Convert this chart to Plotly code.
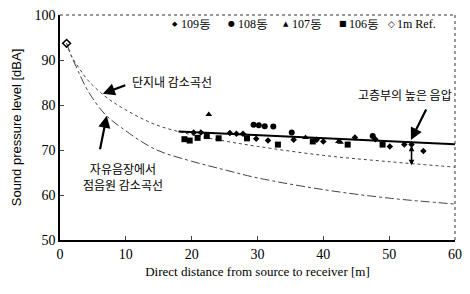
import plotly.graph_objects as go

# ---------------- data ----------------
curve_x = [1, 1.7, 2.8, 4.3, 6.8, 9.3, 14.4, 20, 25, 30, 40, 50, 60]
complex_curve = [93.7, 91.0, 88.4, 85.4, 82.0, 79.5, 75.7, 73.4, 72.0, 70.8, 68.8, 67.4, 66.2]
free_field_curve = [93.7, 91.0, 87.4, 83.0, 78.0, 75.0, 70.2, 67.5, 65.6, 63.8, 61.2, 59.3, 58.0]

b109_x = [20.3, 21.4, 25.8, 26.8, 27.8, 29.8, 31.6, 35.5, 39.0, 40.0, 44.8, 47.9, 50.1, 52.3, 53.4, 55.2]
b109_y = [73.9, 73.9, 73.8, 73.6, 73.6, 72.5, 72.1, 72.3, 72.3, 71.9, 72.8, 72.4, 70.8, 71.2, 71.2, 69.8]
b108_x = [29.4, 30.2, 31.1, 32.4, 35.2, 47.5]
b108_y = [75.6, 75.5, 75.3, 75.2, 73.9, 73.1]
b107_x = [22.6, 37.3, 42.3, 42.6]
b107_y = [77.9, 72.8, 71.9, 71.7]
b106_x = [18.9, 19.7, 20.9, 22.3, 24.1, 28.4, 33.1, 38.4, 43.7, 49.0]
b106_y = [72.4, 72.1, 72.7, 73.1, 72.6, 72.6, 71.2, 71.9, 71.2, 71.2]
ref_x = [1.0]
ref_y = [93.7]

reg_x = [18, 60]
reg_y = [74.1, 71.3]

arrow_x = 53.4
arrow_top = 71.3
arrow_bottom = 66.6

legend_names = ["109동", "108동", "107동", "106동", "1m Ref."]
legend_glyphs = ["◆", "●", "▲", "■", "◇"]

x_ticks = [0, 10, 20, 30, 40, 50, 60]
y_ticks = [50, 60, 70, 80, 90, 100]

serif = "Liberation Serif"
kr = "Noto Sans CJK KR"

fig = go.Figure()

fig.add_trace(go.Scatter(x=curve_x, y=complex_curve, mode="lines", line_shape="spline",
                         line=dict(color="#444", width=1, dash="dot"), showlegend=False))
fig.add_trace(go.Scatter(x=curve_x, y=free_field_curve, mode="lines", line_shape="spline",
                         line=dict(color="#444", width=1, dash="dashdot"), showlegend=False))
fig.add_trace(go.Scatter(x=reg_x, y=reg_y, mode="lines",
                         line=dict(color="black", width=2), showlegend=False))

fig.add_trace(go.Scatter(x=b109_x, y=b109_y, mode="markers", name=legend_names[0],
                         marker=dict(symbol="diamond", size=5, color="black")))
fig.add_trace(go.Scatter(x=b108_x, y=b108_y, mode="markers", name=legend_names[1],
                         marker=dict(symbol="circle", size=6, color="black")))
fig.add_trace(go.Scatter(x=b107_x, y=b107_y, mode="markers", name=legend_names[2],
                         marker=dict(symbol="triangle-up", size=6, color="black")))
fig.add_trace(go.Scatter(x=b106_x, y=b106_y, mode="markers", name=legend_names[3],
                         marker=dict(symbol="square", size=6, color="black")))
fig.add_trace(go.Scatter(x=ref_x, y=ref_y, mode="markers", name=legend_names[4],
                         marker=dict(symbol="diamond-open", size=6, color="black",
                                     line=dict(width=1.5, color="black"))))

# dotted top/right frame
fig.add_shape(type="line", xref="paper", yref="paper", x0=0, x1=1, y0=1, y1=1,
              line=dict(color="#333", width=1, dash="dot"))
fig.add_shape(type="line", xref="paper", yref="paper", x0=1, x1=1, y0=0, y1=1,
              line=dict(color="#333", width=1, dash="dot"))

# compact legend row (glyph + label)
glyph_px = [175, 232, 287, 344, 392]
glyph_sizes = [7, 8, 7, 8, 9]
for name, glyph, gx, gs in zip(legend_names, legend_glyphs, glyph_px, glyph_sizes):
    fig.add_annotation(x=(gx - 60) / 396, y=0.961, xref="paper", yref="paper",
                       text=glyph, showarrow=False, xanchor="center", yanchor="middle",
                       font=dict(family="DejaVu Sans", size=gs, color="black"))
    fig.add_annotation(x=(gx + 4 - 60) / 396, y=0.961, xref="paper", yref="paper",
                       text=name, showarrow=False, xanchor="left", yanchor="middle",
                       font=dict(family=serif, size=12, color="black"))

# annotations
fig.add_annotation(x=6.5, y=82.5, ax=24, ay=-9, axref="pixel", ayref="pixel",
                   text="", showarrow=True, arrowhead=2, arrowsize=1.1, arrowwidth=2.2,
                   arrowcolor="black")
fig.add_annotation(x=17, y=85.3, text="단지내 감소곡선", showarrow=False,
                   font=dict(family=kr, size=12, color="black"))

fig.add_annotation(x=7.1, y=77.6, ax=-7, ay=35, axref="pixel", ayref="pixel",
                   text="", showarrow=True, arrowhead=2, arrowsize=1.1, arrowwidth=2.2,
                   arrowcolor="black")
fig.add_annotation(x=9.6, y=64.2, text="자유음장에서<br>점음원 감소곡선", showarrow=False,
                   font=dict(family=kr, size=12, color="black"))

fig.add_annotation(x=53.3, y=72.2, ax=16, ay=-32, axref="pixel", ayref="pixel",
                   text="", showarrow=True, arrowhead=2, arrowsize=1.1, arrowwidth=2.2,
                   arrowcolor="black")
fig.add_annotation(x=52.4, y=82.3, text="고층부의 높은 음압", showarrow=False,
                   font=dict(family=kr, size=12, color="black"))

fig.add_annotation(x=arrow_x, y=arrow_bottom, ax=arrow_x, ay=arrow_top,
                   axref="x", ayref="y", text="", showarrow=True,
                   arrowhead=2, startarrowhead=2, arrowside="end+start",
                   arrowsize=0.7, startarrowsize=0.7, arrowwidth=1.6, arrowcolor="black")

fig.update_layout(
    width=470, height=294,
    margin=dict(l=60, r=14, t=8, b=54),
    paper_bgcolor="white", plot_bgcolor="white",
    font=dict(family=serif, color="black", size=13),
    showlegend=False,
    xaxis=dict(range=[0, 60], tickvals=x_ticks, ticks="inside", ticklen=4,
               showline=True, linecolor="black", linewidth=1.5, showgrid=False,
               zeroline=False, tickfont=dict(family=serif, size=14),
               title=dict(text="Direct distance from source to receiver [m]",
                          font=dict(family=serif, size=13), standoff=6)),
    yaxis=dict(range=[50, 100], tickvals=y_ticks, ticks="inside", ticklen=4,
               showline=True, linecolor="black", linewidth=1.5, showgrid=False,
               zeroline=False, tickfont=dict(family=serif, size=14),
               title=dict(text="Sound pressure level [dBA]",
                          font=dict(family="Liberation Sans", size=13), standoff=10)),
)

fig.write_html("out.html", config={"displayModeBar": False},
               post_script="document.body.style.margin='0';")
